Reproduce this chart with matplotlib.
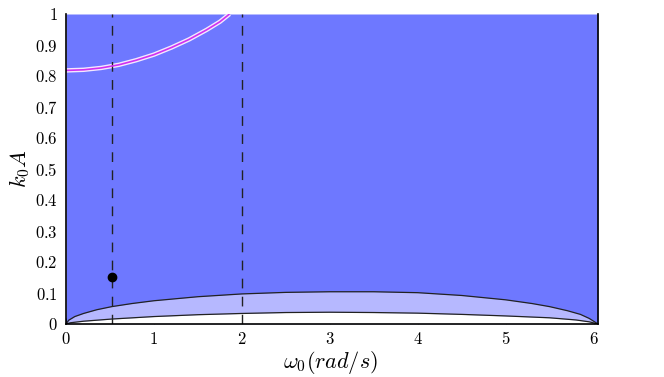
import matplotlib
matplotlib.use("Agg")
import matplotlib.pyplot as plt
from matplotlib.ticker import FuncFormatter

plt.rcParams['mathtext.fontset'] = 'cm'
plt.rcParams['font.family'] = 'serif'

# Upper boundary of the light band
upper_x = [0.0, 0.03, 0.1, 0.2, 0.35, 0.52, 0.75, 1.0, 1.5, 2.0, 2.5, 3.0, 3.5, 4.0, 4.5, 5.0, 5.3, 5.5, 5.7, 5.85, 5.95, 6.05]
upper_y = [0.0, 0.012, 0.024, 0.034, 0.046, 0.056, 0.066, 0.075, 0.088, 0.097, 0.102, 0.104, 0.104, 0.101, 0.092, 0.078, 0.066, 0.056, 0.043, 0.031, 0.018, 0.0]
# Lower boundary of the light band
lower_x = [0.0, 0.05, 0.2, 0.52, 1.0, 1.5, 2.0, 2.5, 3.0, 3.5, 4.0, 4.5, 5.0, 5.5, 5.8, 5.95, 6.05]
lower_y = [0.0, 0.004, 0.009, 0.016, 0.024, 0.030, 0.034, 0.037, 0.038, 0.037, 0.035, 0.031, 0.026, 0.020, 0.013, 0.007, 0.0]
# Upper (pink) curve
pink_x = [0.0, 0.2, 0.4, 0.6, 0.8, 1.0, 1.2, 1.4, 1.6, 1.75, 1.86]
pink_y = [0.818, 0.820, 0.826, 0.836, 0.851, 0.869, 0.892, 0.918, 0.949, 0.975, 1.0]
# Dashed reference lines and marked point
vlines_x = [0.52, 2.0]
point_x = [0.52]
point_y = [0.152]

xticks = [0, 1, 2, 3, 4, 5, 6]
yticks = [0, 0.1, 0.2, 0.3, 0.4, 0.5, 0.6, 0.7, 0.8, 0.9, 1]

blue = '#6e78ff'
light = '#b6b8ff'

fig = plt.figure(figsize=(6.64, 3.77), dpi=100)
ax = fig.add_axes([66/664, 1-324/377, (598-66)/664, (324-14)/377])
ax.set_axisbelow(True)
ax.set_facecolor('white')

ax.fill_between(upper_x, upper_y, 1.0, color=blue, lw=0, zorder=1)
ax.fill_between(upper_x, upper_y, 0, color=light, lw=0, zorder=0.9)
ax.fill_between(lower_x, lower_y, 0, color='white', lw=0, zorder=1)
ax.plot(upper_x, upper_y, color='#222222', lw=0.9, zorder=2)
ax.plot(lower_x, lower_y, color='#222222', lw=0.9, zorder=2)

ax.plot(pink_x, pink_y, color='#f4e8ff', lw=3.2, zorder=3, solid_capstyle='butt')
ax.plot(pink_x, pink_y, color='#d030f0', lw=1.2, zorder=4, solid_capstyle='butt')

for xv in vlines_x:
    ax.axvline(xv, color='#222222', lw=1.0, dashes=(7, 6), zorder=3)

ax.plot(point_x, point_y, 'o', color='black', ms=6, zorder=5)

ax.set_xlim(0, 6.05)
ax.set_ylim(0, 1)
ax.set_xticks(xticks)
ax.set_yticks(yticks)
fmt = FuncFormatter(lambda v, p: '$%g$' % v)
ax.xaxis.set_major_formatter(fmt)
ax.yaxis.set_major_formatter(fmt)
ax.tick_params(axis='x', direction='in', length=4, width=0.8, labelsize=12, pad=5)
ax.tick_params(axis='y', direction='in', length=0, labelsize=12, pad=6)
ax.spines['top'].set_visible(False)
for s in ['left', 'right', 'bottom']:
    ax.spines[s].set_linewidth(1.2)
    ax.spines[s].set_zorder(6)

ax.set_xlabel(r'$\omega_0(rad/s)$', fontsize=16)
ax.set_ylabel(r'$k_0A$', fontsize=16)
ax.xaxis.set_label_coords(0.497, -0.08)
ax.yaxis.set_label_coords(-0.064, 0.503)

fig.savefig('out.png', dpi=100)
